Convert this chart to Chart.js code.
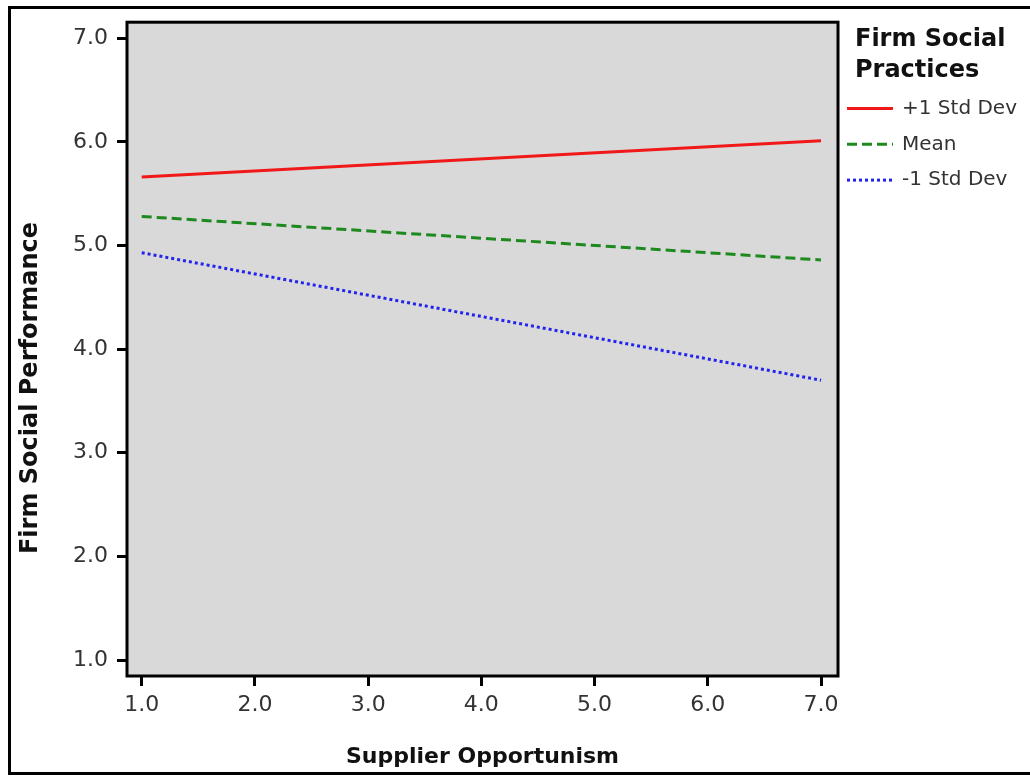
<!DOCTYPE html>
<html>
<head>
<meta charset="utf-8">
<script src="https://cdn.jsdelivr.net/npm/chart.js@4/dist/chart.umd.min.js"></script>
<style>
html,body{margin:0;padding:0;background:#fff;}
#wrap{width:1030px;height:776px;position:relative;}
</style>
</head>
<body>
<div id="wrap"><canvas id="c" width="1030" height="776"></canvas></div>
<script>
// ---- data ----
const xValues = [1.0, 7.0];
const seriesLabels = ['+1 Std Dev', 'Mean', '-1 Std Dev'];
const plusOneSD = [5.66, 6.01];
const meanValues = [5.28, 4.86];
const minusOneSD = [4.93, 3.70];
const xTickVals = [1, 2, 3, 4, 5, 6, 7];
const yTickVals = [1, 2, 3, 4, 5, 6, 7];
const xTitle = 'Supplier Opportunism';
const yTitle = 'Firm Social Performance';
const legendTitle = ['Firm Social', 'Practices'];

const FONT = "'DejaVu Sans', Verdana, sans-serif";

function pts(vals){ return xValues.map((x,i)=>({x:x, y:vals[i]})); }

const datasets = [
  {label: seriesLabels[0], data: pts(plusOneSD), borderColor:'#f01818', borderWidth:3, borderDash:[]},
  {label: seriesLabels[1], data: pts(meanValues), borderColor:'#1e8a1e', borderWidth:3, borderDash:[10,5]},
  {label: seriesLabels[2], data: pts(minusOneSD), borderColor:'#2323ee', borderWidth:3, borderDash:[3,3]}
].map(d=>Object.assign(d,{pointRadius:0, fill:false, tension:0}));

const framePlugin = {
  id:'frame',
  beforeDatasetsDraw(chart){
    const {ctx, chartArea:a} = chart;
    ctx.save();
    ctx.fillStyle='#d9d9d9';
    ctx.fillRect(a.left,a.top,a.right-a.left,a.bottom-a.top);
    ctx.restore();
  },
  afterDatasetsDraw(chart){
    const {ctx, chartArea:a} = chart;
    ctx.save();
    ctx.strokeStyle='#000'; ctx.lineWidth=3;
    ctx.strokeRect(a.left,a.top,a.right-a.left,a.bottom-a.top);
    ctx.restore();
  },
  afterDraw(chart){
    const ctx = chart.ctx;
    ctx.save();
    // outer border
    ctx.strokeStyle='#000'; ctx.lineWidth=3;
    ctx.beginPath();
    ctx.moveTo(1032,7.5); ctx.lineTo(9.5,7.5); ctx.lineTo(9.5,773.5); ctx.lineTo(1032,773.5);
    ctx.stroke();
    // y axis title
    ctx.save();
    ctx.translate(31, 388);
    ctx.rotate(-Math.PI/2);
    ctx.fillStyle='#111';
    ctx.font = "bold 24px " + FONT;
    ctx.textAlign='center'; ctx.textBaseline='middle';
    ctx.fillText(yTitle, 0, 0);
    ctx.restore();
    // legend
    const lx = 855;
    ctx.fillStyle='#111';
    ctx.font = "bold 24px " + FONT;
    ctx.textBaseline='middle'; ctx.textAlign='left';
    legendTitle.forEach((t,i)=>ctx.fillText(t, lx, 40 + i*31));
    ctx.font = "20px " + FONT;
    chart.data.datasets.forEach((d,i)=>{
      const y = 108.5 + i*35.8;
      ctx.strokeStyle=d.borderColor; ctx.lineWidth=3;
      ctx.setLineDash(d.borderDash||[]);
      ctx.beginPath(); ctx.moveTo(847,y); ctx.lineTo(893,y); ctx.stroke();
      ctx.setLineDash([]);
      ctx.fillStyle='#333';
      ctx.fillText(d.label, 902, y);
    });
    ctx.restore();
  }
};

new Chart(document.getElementById('c'), {
  type:'line',
  data:{datasets},
  options:{
    responsive:false,
    animation:false,
    layout:{padding:{left:12, top:21, right:192, bottom:6}},
    plugins:{legend:{display:false}, tooltip:{enabled:false}},
    scales:{
      x:{
        type:'linear', min:0.87, max:7.15,
        afterBuildTicks(s){ s.ticks = xTickVals.map(v=>({value:v})); },
        afterFit(s){ s.height = 94; },
        ticks:{color:'#333', font:{family:FONT, size:22}, padding:6, maxRotation:0, autoSkip:false,
               callback:v=>Number(v).toFixed(1)},
        grid:{drawOnChartArea:false, drawTicks:true, tickLength:10, tickWidth:3, tickColor:'#000', offset:false},
        border:{display:false},
        title:{display:true, text:xTitle, color:'#111', font:{family:FONT, size:22, weight:'bold'}, padding:{top:4,bottom:0}}
      },
      y:{
        type:'linear', min:0.846, max:7.154,
        afterBuildTicks(s){ s.ticks = yTickVals.map(v=>({value:v})); },
        afterFit(s){ s.width = 115; },
        ticks:{color:'#333', font:{family:FONT, size:22}, padding:9, autoSkip:false,
               callback:v=>Number(v).toFixed(1)},
        grid:{drawOnChartArea:false, drawTicks:true, tickLength:10, tickWidth:3, tickColor:'#000'},
        border:{display:false},
        title:{display:false, text:yTitle}
      }
    }
  },
  plugins:[framePlugin]
});
</script>
</body>
</html>
